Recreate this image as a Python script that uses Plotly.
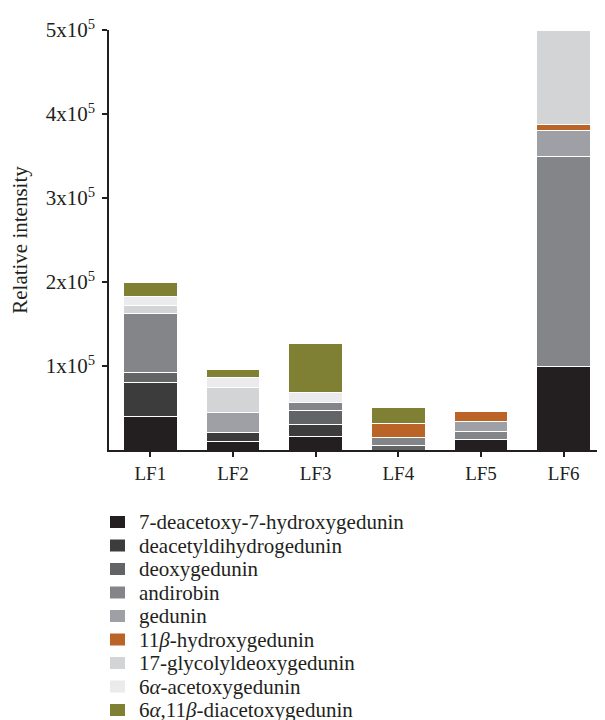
import plotly.graph_objects as go

categories = ["LF1", "LF2", "LF3", "LF4", "LF5", "LF6"]

deacetoxy_hydroxy = [40000, 10000, 16000, 0, 12000, 100000]
deacetyldihydro = [40000, 11000, 14000, 0, 0, 0]
deoxy = [12000, 0, 17000, 5000, 0, 0]
andirobin = [70000, 0, 10000, 10000, 10000, 250000]
gedunin = [0, 24000, 0, 0, 12000, 30000]
hydroxy11b = [0, 0, 0, 17000, 12000, 7500]
glycolyl17 = [10000, 30000, 0, 0, 0, 112500]
acetoxy6a = [10500, 11000, 11000, 0, 0, 0]
diacetoxy = [17500, 9500, 59000, 19000, 0, 0]

series_names = [
    "7-deacetoxy-7-hydroxygedunin",
    "deacetyldihydrogedunin",
    "deoxygedunin",
    "andirobin",
    "gedunin",
    "11<i>β</i>-hydroxygedunin",
    "17-glycolyldeoxygedunin",
    "6<i>α</i>-acetoxygedunin",
    "6<i>α</i>,11<i>β</i>-diacetoxygedunin",
]
series_values = [deacetoxy_hydroxy, deacetyldihydro, deoxy, andirobin, gedunin,
                 hydroxy11b, glycolyl17, acetoxy6a, diacetoxy]
series_colors = ["#231f20", "#3c3c3d", "#636466", "#848589", "#9ea0a5",
                 "#bb6428", "#d3d4d6", "#ebebed", "#808034"]

y_tickvals = [100000, 200000, 300000, 400000, 500000]
y_ticktext = ["1x10<sup>5</sup>", "2x10<sup>5</sup>", "3x10<sup>5</sup>",
              "4x10<sup>5</sup>", "5x10<sup>5</sup>"]

# page has an 8px body margin; size the figure to fit the 605x720 window
OFF = 8
W, H = 605 - OFF, 720 - OFF
ML, MR, MT = 109 - OFF, 0, 30 - OFF
MB = H - (450 - OFF)
PW, PH = W - ML - MR, H - MT - MB


def px_x(page_px):
    return (page_px - OFF - ML) / PW


def px_y(page_py):
    return (H - MB - (page_py - OFF)) / PH


fig = go.Figure()
for name, vals, color in zip(series_names, series_values, series_colors):
    fig.add_trace(go.Bar(
        x=categories,
        y=[v if v else None for v in vals],
        name=name,
        marker=dict(color=color, line=dict(color="white", width=1)),
        showlegend=False,
    ))

txt = "#231f20"

# manual legend (tight row spacing like the reference)
annotations = []
shapes = []
row0, step = 522, 23.5
for i, (name, color) in enumerate(zip(series_names, series_colors)):
    cy = row0 + step * i
    shapes.append(dict(
        type="rect", xref="paper", yref="paper",
        x0=px_x(110), x1=px_x(125), y0=px_y(cy + 6), y1=px_y(cy - 6),
        fillcolor=color, line=dict(width=0),
    ))
    annotations.append(dict(
        text=name, xref="paper", yref="paper",
        x=px_x(137), y=px_y(cy), xanchor="left", yanchor="middle",
        showarrow=False, font=dict(family="Liberation Serif", size=21, color=txt),
    ))

fig.update_layout(
    width=W, height=H,
    margin=dict(l=ML, r=MR, t=MT, b=MB),
    barmode="stack", bargap=0.35,
    plot_bgcolor="white", paper_bgcolor="white",
    font=dict(family="Liberation Serif", size=19, color=txt),
    showlegend=False,
    annotations=annotations,
    shapes=shapes,
    xaxis=dict(
        showline=True, linecolor=txt, linewidth=1.5,
        ticks="outside", ticklen=5, tickcolor=txt, tickwidth=1.5,
        range=[-0.5, 5.5], showgrid=False, automargin=False,
        tickfont=dict(size=19),
    ),
    yaxis=dict(
        range=[0, 500000], showline=True, linecolor=txt, linewidth=1.5,
        ticks="outside", ticklen=5, tickcolor=txt, tickwidth=1.5,
        tickvals=y_tickvals, ticktext=y_ticktext, showgrid=False, zeroline=False,
        tickfont=dict(size=21), ticklabelstandoff=3, automargin=False,
        title=dict(text="Relative intensity", font=dict(size=21), standoff=19),
    ),
)

fig.write_html("out.html")
